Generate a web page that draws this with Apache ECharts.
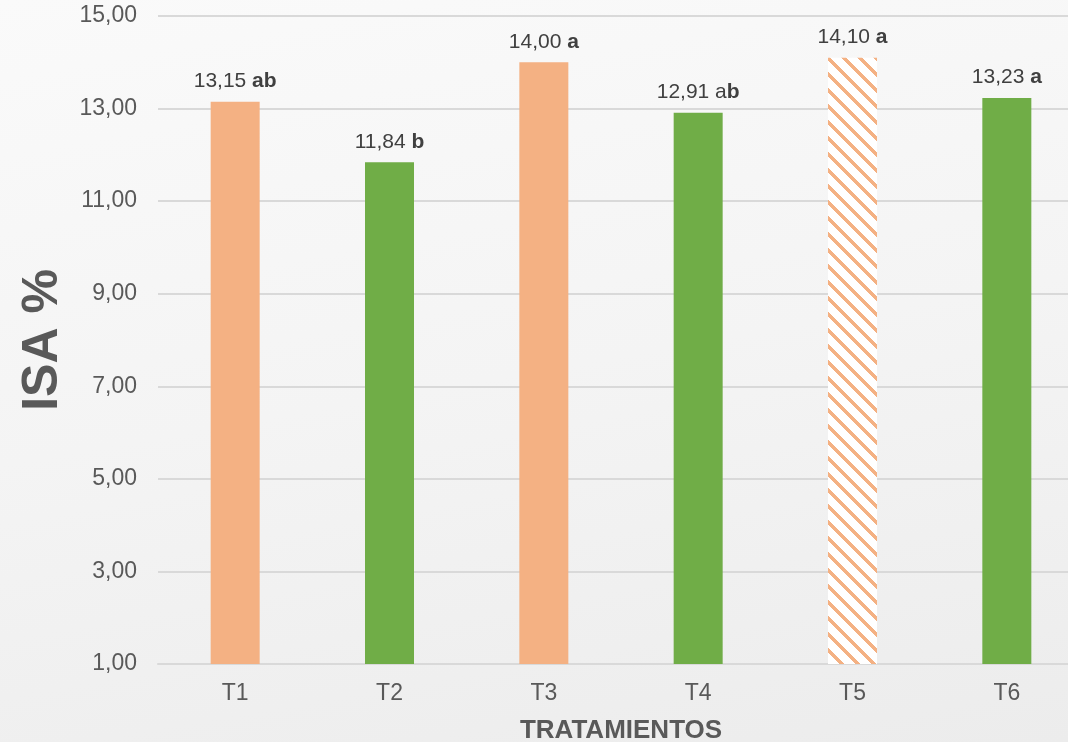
<!DOCTYPE html>
<html>
<head>
<meta charset="utf-8">
<script src="https://cdn.jsdelivr.net/npm/echarts@6/dist/echarts.min.js"></script>
<style>
  html, body { margin: 0; padding: 0; }
  #isa {
    width: 1068px; height: 742px;
    background: linear-gradient(170deg, #fafafa 0%, #f4f4f4 50%, #ececec 100%);
  }
</style>
</head>
<body>
<div id="isa"></div>
<script>
var categories = ['T1', 'T2', 'T3', 'T4', 'T5', 'T6'];
var values = [13.15, 11.84, 14.00, 12.91, 14.10, 13.23];
// letras de significancia: parte normal y parte en negrita
var lettersPlain = ['', '', '', 'a', '', ''];
var lettersBold = ['ab', 'b', 'a', 'b', 'a', 'a'];
var fills = ['orange', 'green', 'orange', 'green', 'hatch', 'green'];

var ORANGE = '#F4B183';
var GREEN = '#70AD47';

// rayado diagonal para T5
function hatchPattern() {
  var s = 16;
  var c = document.createElement('canvas');
  c.width = s; c.height = s;
  var ctx = c.getContext('2d');
  var img = ctx.createImageData(s, s);
  for (var y = 0; y < s; y++) {
    for (var x = 0; x < s; x++) {
      var d = ((x - y) % s + s) % s;
      var k = (y * s + x) * 4;
      if (d < 5) {
        img.data[k] = 0xF4; img.data[k + 1] = 0xB1; img.data[k + 2] = 0x83;
      } else {
        img.data[k] = 255; img.data[k + 1] = 255; img.data[k + 2] = 255;
      }
      img.data[k + 3] = 255;
    }
  }
  ctx.putImageData(img, 0, 0);
  return c;
}
var hatch = hatchPattern();

function fmt(v) {
  return v.toFixed(2).replace('.', ',');
}

var chartDom = document.getElementById('isa');
var myChart = echarts.init(chartDom);
var option;

option = {
  animation: false,
  textStyle: { fontFamily: 'Liberation Sans, Arial, sans-serif' },
  grid: { left: 158, right: -16, top: 16, bottom: 78, outerBoundsMode: 'none', containLabel: false },
  xAxis: {
    type: 'category',
    data: categories,
    name: 'TRATAMIENTOS',
    nameLocation: 'middle',
    nameGap: 54,
    nameTextStyle: { fontSize: 26, fontWeight: 'bold', color: '#595959' },
    axisLine: { lineStyle: { color: '#d9d9d9', width: 2 } },
    axisTick: { show: false },
    axisLabel: { fontSize: 23, color: '#595959', margin: 18 }
  },
  yAxis: {
    type: 'value',
    min: 1,
    max: 15,
    interval: 2,
    name: 'ISA %',
    nameLocation: 'middle',
    nameGap: 89,
    nameTextStyle: { fontSize: 50, fontWeight: 'bold', color: '#595959' },
    axisLine: { show: false },
    axisTick: { show: false },
    axisLabel: { fontSize: 23, color: '#595959', margin: 21, formatter: fmt },
    splitLine: { lineStyle: { color: '#d9d9d9', width: 2 } }
  },
  series: [
    {
      type: 'bar',
      barWidth: 49,
      data: values.map(function (v, i) {
        var col = fills[i] === 'orange' ? ORANGE : fills[i] === 'green' ? GREEN : { image: hatch, repeat: 'repeat' };
        return { value: v, itemStyle: { color: col } };
      }),
      label: {
        show: true,
        position: 'top',
        distance: 10,
        formatter: function (p) {
          var i = p.dataIndex;
          return '{n|' + fmt(values[i]) + ' ' + lettersPlain[i] + '}{b|' + lettersBold[i] + '}';
        },
        rich: {
          n: { fontSize: 21, color: '#404040' },
          b: { fontSize: 21, color: '#404040', fontWeight: 'bold' }
        }
      }
    }
  ]
};

option && myChart.setOption(option);
</script>
</body>
</html>
